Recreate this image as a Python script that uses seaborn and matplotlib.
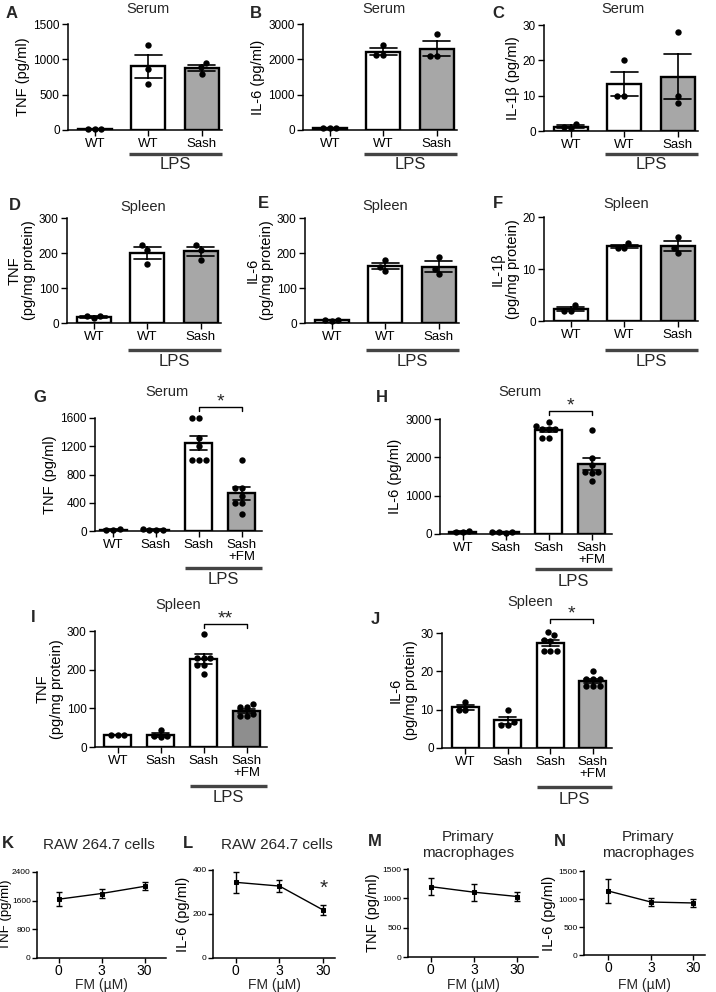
import numpy as np
import pandas as pd
import matplotlib
matplotlib.use('Agg')
import matplotlib.pyplot as plt
import seaborn as sns
from matplotlib import transforms
import warnings
warnings.filterwarnings('ignore')

sns.set_theme(style='ticks')
plt.rcParams['font.family'] = ['Liberation Sans', 'DejaVu Sans']

W, H = 716, 992
fig = plt.figure(figsize=(W / 100, H / 100), dpi=100)

# ---------------- data ----------------
groups3 = ['WT', 'WT LPS', 'Sash LPS']
ticks3 = ['WT', 'WT', 'Sash']
groups4 = ['WT', 'Sash', 'Sash LPS', 'Sash+FM LPS']
ticks4 = ['WT', 'Sash', 'Sash', 'Sash\n+FM']

tnf_serum = [[8, 12, 16], [1197, 861, 644], [946, 885, 795]]
il6_serum = [[45, 70, 60], [2410, 2110, 2110], [2716, 2101, 2101]]
il1b_serum = [[1.9, 1.0, 0.9], [20, 10, 10], [28, 10, 8]]
tnf_spleen = [[14, 19, 19], [222, 210, 168], [222, 210, 181]]
il6_spleen = [[7, 10, 9], [179, 160, 150], [189, 155, 139]]
il1b_spleen = [[3.0, 2.0, 2.0], [15.0, 14.0, 14.1], [16.2, 14.0, 13.0]]

tnf_serum_fm = [[20, 25, 15], [15, 20, 20, 25],
                [1600, 1600, 1320, 1205, 1000, 1000, 1000],
                [1000, 610, 610, 500, 390, 390, 240]]
il6_serum_fm = [[50, 60, 70], [30, 40, 40, 50],
                [2930, 2820, 2730, 2730, 2730, 2510, 2510],
                [2710, 1990, 1800, 1630, 1630, 1600, 1390]]
tnf_spleen_fm = [[30, 30, 31], [45, 28, 28, 25],
                 [291, 230, 230, 230, 211, 211, 190],
                 [111, 103, 103, 85, 80, 80]]
il6_spleen_fm = [[11.9, 9.9, 9.9], [9.9, 6.8, 6.0, 6.0],
                 [30.3, 29.4, 28.3, 28.0, 25.3, 25.3, 25.3],
                 [20, 18.1, 18.1, 18.1, 16.1, 16.1, 16.1]]

doses = ['0', '3', '30']
raw_tnf_mean = [1640, 1800, 2000]
raw_tnf_sem = [200, 130, 110]
raw_il6_mean = [344, 327, 218]
raw_il6_sem = [47, 27, 23]
mac_tnf_mean = [1200, 1105, 1031]
mac_tnf_sem = [148, 143, 80]
mac_il6_mean = [1143, 946, 929]
mac_il6_sem = [210, 78, 72]

GREY = '#a7a7a7'
DARKGREY = '#8e8e8e'


# ---------------- helpers ----------------
def fy(ypx):
    return 1 - ypx / H


def add_ax(l, r, t, b):
    return fig.add_axes([l / W, 1 - b / H, (r - l) / W, (b - t) / H])


def ftext(x, y, s, **kw):
    kw.setdefault('ha', 'center')
    kw.setdefault('va', 'center')
    fig.text(x / W, fy(y), s, **kw)


def style_axis(ax, ylim, yticks, ylabel, ysize=8.5, xsize=9.5, ylsize=10.5):
    sns.despine(ax=ax)
    ax.set_ylim(*ylim)
    ax.set_yticks(yticks)
    ax.set_ylabel(ylabel, fontsize=ylsize, labelpad=2, color='black',
                  linespacing=1.05)
    ax.set_xlabel('')
    for s in ['left', 'bottom']:
        ax.spines[s].set_linewidth(1.1)
        ax.spines[s].set_color('black')
    ax.tick_params(axis='both', length=4, width=1.0, color='black', pad=2,
                   labelcolor='black')
    ax.tick_params(axis='y', labelsize=ysize)
    ax.tick_params(axis='x', labelsize=xsize)


def bar_panel(box, xlim, groups, ticklabels, values, colors, ylim, yticks,
              ylabel, cap):
    ax = add_ax(*box)
    df = pd.DataFrame({
        'group': np.repeat(groups, [len(v) for v in values]),
        'value': np.concatenate(values),
    })
    sns.barplot(data=df, x='group', y='value', hue='group', order=groups,
                hue_order=groups, palette=colors, errorbar='se', capsize=cap,
                width=0.63, edgecolor='black', linewidth=1.7,
                err_kws={'color': 'black', 'linewidth': 1.2}, legend=False,
                ax=ax)
    sns.swarmplot(data=df, x='group', y='value', order=groups, color='black',
                  size=4.6, ax=ax, zorder=4)
    for c in ax.collections:
        c.set_clip_on(False)
    for ln in ax.lines:
        ln.set_zorder(5)
    ax.set_xticks(range(len(groups)))
    ax.set_xticklabels(ticklabels, linespacing=0.95)
    ax.set_xlim(*xlim)
    style_axis(ax, ylim, yticks, ylabel)
    return ax


def lps(ax, x0, x1, yline, ytext):
    tr = transforms.blended_transform_factory(ax.transData, fig.transFigure)
    ax.plot([x0, x1], [fy(yline), fy(yline)], transform=tr, color='#444444',
            lw=2.4, clip_on=False, solid_capstyle='butt')
    ax.text((x0 + x1) / 2, fy(ytext), 'LPS', transform=tr, ha='center',
            va='center', fontsize=12)


def bracket(ax, x0, x1, ypx, star, ystar):
    tr = transforms.blended_transform_factory(ax.transData, fig.transFigure)
    ax.plot([x0, x0, x1, x1], [fy(ypx + 4), fy(ypx), fy(ypx), fy(ypx + 4)],
            transform=tr, color='black', lw=1.0, clip_on=False)
    ax.text((x0 + x1) / 2, fy(ystar), star, transform=tr, ha='center',
            va='center', fontsize=14)


def line_panel(box, xlim, means, sems, ylim, yticks, ylabel):
    ax = add_ax(*box)
    df = pd.DataFrame({'dose': doses, 'value': means})
    sns.pointplot(data=df, x='dose', y='value', order=doses, color='black',
                  markers='s', markersize=3.2, linewidth=1.0, errorbar=None,
                  ax=ax)
    ax.errorbar(range(len(doses)), means, yerr=sems, fmt='none',
                ecolor='black', elinewidth=1.0, capsize=2.5, capthick=1.0)
    ax.set_xlim(*xlim)
    style_axis(ax, ylim, yticks, ylabel, ysize=6, xsize=10, ylsize=10.5)
    ax.tick_params(axis='x', pad=1, length=3.5)
    ax.tick_params(axis='y', pad=1, length=3.5)
    ax.set_xlabel('FM (µM)', fontsize=10, va='center')
    b_px = H * (1 - ax.get_position().y0)
    h_px = H * ax.get_position().height
    ax.xaxis.set_label_coords(0.5, -(985 - b_px) / h_px)
    return ax


c3 = ['white', 'white', GREY]
c4 = ['white', 'white', 'white', GREY]
c4d = ['white', 'white', 'white', DARKGREY]
x3 = (-0.5, 2.38)
TS = 10.5   # title size
LS = 12     # letter size

# ---------------- row 1 ----------------
axA = bar_panel((68, 222, 24, 130), x3, groups3, ticks3, tnf_serum, c3,
                (0, 1500), [0, 500, 1000, 1500], 'TNF (pg/ml)', 0.5)
axB = bar_panel((303, 457, 24, 130), x3, groups3, ticks3, il6_serum, c3,
                (0, 3000), [0, 1000, 2000, 3000], 'IL-6 (pg/ml)', 0.5)
axC = bar_panel((544, 698, 25, 131), x3, groups3, ticks3, il1b_serum, c3,
                (0, 30), [0, 10, 20, 30], 'IL-1β (pg/ml)', 0.5)
for ax in (axA, axB, axC):
    lps(ax, 0.65, 2.38, 154, 165)
ftext(148, 9, 'Serum', fontsize=TS)
ftext(384, 9, 'Serum', fontsize=TS)
ftext(623, 9, 'Serum', fontsize=TS)
ftext(12, 13, 'A', fontsize=LS, fontweight='bold')
ftext(256, 13, 'B', fontsize=LS, fontweight='bold')
ftext(498, 13, 'C', fontsize=LS, fontweight='bold')

# ---------------- row 2 ----------------
axD = bar_panel((67, 221, 218, 323), x3, groups3, ticks3, tnf_spleen, c3,
                (0, 300), [0, 100, 200, 300], 'TNF\n(pg/mg protein)', 0.5)
axE = bar_panel((305, 459, 218, 323), x3, groups3, ticks3, il6_spleen, c3,
                (0, 300), [0, 100, 200, 300], 'IL-6\n(pg/mg protein)', 0.5)
axF = bar_panel((544, 698, 217, 321), x3, groups3, ticks3, il1b_spleen, c3,
                (0, 20), [0, 10, 20], 'IL-1β\n(pg/mg protein)', 0.5)
for ax in (axD, axE, axF):
    lps(ax, 0.65, 2.38, 350, 361)
ftext(143, 207, 'Spleen', fontsize=TS)
ftext(385, 206, 'Spleen', fontsize=TS)
ftext(626, 204, 'Spleen', fontsize=TS)
ftext(15, 205, 'D', fontsize=LS, fontweight='bold')
ftext(263, 203, 'E', fontsize=LS, fontweight='bold')
ftext(498, 203, 'F', fontsize=LS, fontweight='bold')

# ---------------- row 3 ----------------
axG = bar_panel((95, 262, 418, 531), (-0.42, 3.47), groups4, ticks4,
                tnf_serum_fm, c4, (0, 1600), [0, 400, 800, 1200, 1600],
                'TNF (pg/ml)', 0.4)
axH = bar_panel((440, 612, 419, 534), (-0.53, 3.47), groups4, ticks4,
                il6_serum_fm, c4, (0, 3000), [0, 1000, 2000, 3000],
                'IL-6 (pg/ml)', 0.4)
lps(axG, 1.68, 3.47, 568, 580)
lps(axH, 1.68, 3.47, 569, 581)
bracket(axG, 2, 3, 407, '*', 402)
bracket(axH, 2, 3, 411, '*', 406)
ftext(167, 392, 'Serum', fontsize=TS)
ftext(520, 392, 'Serum', fontsize=TS)
ftext(40, 397, 'G', fontsize=LS, fontweight='bold')
ftext(382, 397, 'H', fontsize=LS, fontweight='bold')

# ---------------- row 4 ----------------
axI = bar_panel((95, 267, 631, 747), (-0.53, 3.47), groups4, ticks4,
                tnf_spleen_fm, c4d, (0, 300), [0, 100, 200, 300],
                'TNF\n(pg/mg protein)', 0.4)
axJ = bar_panel((442, 612, 633, 748), (-0.55, 3.45), groups4, ticks4,
                il6_spleen_fm, c4, (0, 30), [0, 10, 20, 30],
                'IL-6\n(pg/mg protein)', 0.4)
lps(axI, 1.68, 3.47, 786, 798)
lps(axJ, 1.68, 3.45, 787, 799)
bracket(axI, 2, 3, 624, '**', 619)
bracket(axJ, 2, 3, 619, '*', 614)
ftext(178, 605, 'Spleen', fontsize=TS)
ftext(530, 602, 'Spleen', fontsize=TS)
ftext(33, 617, 'I', fontsize=LS, fontweight='bold')
ftext(375, 620, 'J', fontsize=LS, fontweight='bold')

# ---------------- row 5 ----------------
axK = line_panel((37, 166, 872, 958), (-0.5, 2.5), raw_tnf_mean, raw_tnf_sem,
                 (0, 2400), [0, 800, 1600, 2400], 'TNF (pg/ml)')
axL = line_panel((213, 335, 870, 958), (-0.52, 2.27), raw_il6_mean,
                 raw_il6_sem, (0, 400), [0, 200, 400], 'IL-6 (pg/ml)')
axM = line_panel((408, 538, 869, 957), (-0.52, 2.48), mac_tnf_mean,
                 mac_tnf_sem, (0, 1500), [0, 500, 1000, 1500], 'TNF (pg/ml)')
axN = line_panel((584, 705, 871, 955), (-0.57, 2.27), mac_il6_mean,
                 mac_il6_sem, (0, 1500), [0, 500, 1000, 1500], 'IL-6 (pg/ml)')
axK.set_ylabel('TNF (pg/ml)', fontsize=9.5, color='black')
axK.yaxis.set_label_coords(-(37 - 12.5) / 129, 0.5)
axL.text(2, raw_il6_mean[2] + 100, '*', ha='center', va='center', fontsize=15)
ftext(99, 845, 'RAW 264.7 cells', fontsize=11)
ftext(277, 845, 'RAW 264.7 cells', fontsize=11)
ftext(468, 845, 'Primary\nmacrophages', fontsize=11, linespacing=1.1)
ftext(648, 845, 'Primary\nmacrophages', fontsize=11, linespacing=1.1)
ftext(8, 843, 'K', fontsize=LS, fontweight='bold')
ftext(188, 843, 'L', fontsize=LS, fontweight='bold')
ftext(375, 842, 'M', fontsize=LS, fontweight='bold')
ftext(560, 842, 'N', fontsize=LS, fontweight='bold')

fig.savefig('out.png', dpi=100, facecolor='white')
